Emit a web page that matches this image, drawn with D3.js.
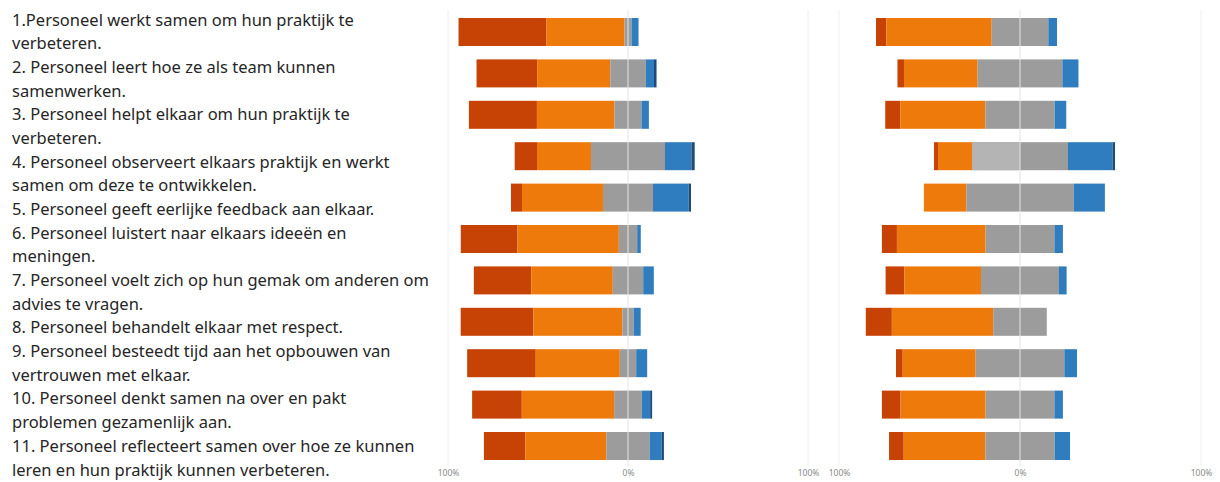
<!DOCTYPE html>
<html>
<head>
<meta charset="utf-8">
<script src="https://cdn.jsdelivr.net/npm/d3@7"></script>
<style>
  html, body { margin: 0; padding: 0; background: #fff; }
  svg { display: block; }
</style>
</head>
<body>
<svg id="chart" width="1220" height="482"></svg>
<script>
// Statements (two-line wrapped labels, drawn as one text block)
const statements = [
  ["1.Personeel werkt samen om hun praktijk te", "verbeteren."],
  ["2. Personeel leert hoe ze als team kunnen", "samenwerken."],
  ["3. Personeel helpt elkaar om hun praktijk te", "verbeteren."],
  ["4. Personeel observeert elkaars praktijk en werkt", "samen om deze te ontwikkelen."],
  ["5. Personeel geeft eerlijke feedback aan elkaar."],
  ["6. Personeel luistert naar elkaars ideeën en", "meningen."],
  ["7. Personeel voelt zich op hun gemak om anderen om", "advies te vragen."],
  ["8. Personeel behandelt elkaar met respect."],
  ["9. Personeel besteedt tijd aan het opbouwen van", "vertrouwen met elkaar."],
  ["10. Personeel denkt samen na over en pakt", "problemen gezamenlijk aan."],
  ["11. Personeel reflecteert samen over hoe ze kunnen", "leren en hun praktijk kunnen verbeteren."]
];

// Response levels, from the far left of the diverging bar to the far right
const levels = ["niveau1", "niveau2", "neutraal", "niveau4", "niveau5"];
const levelColors = ["#c64205", "#ef7a0c", "#9c9c9c", "#2f7dbf", "#1d4b7a"];
const neutralHighlight = "#b4b4b4";

// Percentages per statement, first panel
const panelA = [
  [48.7, 43.5, 3.9, 3.9, 0],
  [33.7, 40.6, 19.7, 4.6, 1.4],
  [37.8, 43.1, 15.0, 4.1, 0],
  [12.4, 30.0, 41.1, 14.7, 1.8],
  [6.1, 45.0, 27.8, 19.8, 1.3],
  [31.5, 56.3, 10.2, 2.0, 0],
  [31.9, 45.3, 16.9, 5.9, 0],
  [40.4, 49.4, 6.3, 3.9, 0],
  [38.1, 46.7, 9.1, 6.1, 0],
  [27.6, 51.3, 15.4, 4.6, 1.1],
  [23.0, 45.0, 24.1, 6.6, 1.3]
];

// Percentages per statement, second panel
const panelB = [
  [5.7, 58.2, 31.3, 4.8, 0],
  [3.6, 40.7, 46.8, 8.9, 0],
  [8.3, 47.0, 38.3, 6.4, 0],
  [2.2, 18.8, 53.0, 24.6, 1.4],
  [0, 23.4, 59.4, 17.2, 0],
  [8.3, 49.0, 38.0, 4.7, 0],
  [10.3, 42.4, 43.1, 4.2, 0],
  [14.4, 56.0, 29.6, 0, 0],
  [3.7, 40.3, 49.0, 7.0, 0],
  [10.3, 47.0, 38.0, 4.7, 0],
  [8.1, 45.1, 38.3, 8.5, 0]
];

const tickValues = [-100, 0, 100];
const tickLabels = ["100%", "0%", "100%"];

const svg = d3.select("#chart");

// ---- Statement labels on the left ----
const lines = statements.flat();
const lineY = d3.scaleLinear().domain([0, lines.length - 1]).range([25.5, 475.5]);
svg.append("g")
  .selectAll("text")
  .data(lines)
  .join("text")
  .attr("x", 12)
  .attr("y", (d, i) => lineY(i))
  .attr("font-family", "'Noto Sans', sans-serif")
  .attr("font-size", 16.5)
  .attr("fill", "#262626")
  .text(d => d);

// ---- Diverging bar panels ----
const rowY = d3.scalePoint()
  .domain(d3.range(statements.length))
  .range([32, 446]);
const barH = 28;

function drawPanel(data, x0, x1, highlightRow) {
  const x = d3.scaleLinear().domain([-100, 100]).range([x0, x1]);
  const g = svg.append("g");

  // faint frame gridlines at the panel edges
  g.selectAll("line.edge")
    .data([-100, 100])
    .join("line")
    .attr("class", "edge")
    .attr("x1", d => x(d)).attr("x2", d => x(d))
    .attr("y1", 10).attr("y2", 466)
    .attr("stroke", "#f0f0f0")
    .attr("stroke-width", 1);

  // stack each row so the neutral share is centred on zero
  const rows = data.map((vals, i) => {
    const start = -(vals[0] + vals[1] + vals[2] / 2);
    let acc = start;
    return vals.map((v, k) => {
      const seg = { row: i, level: k, from: acc, to: acc + v };
      acc += v;
      return seg;
    }).filter(s => s.to - s.from > 0);
  });

  g.selectAll("g.row")
    .data(rows)
    .join("g")
    .attr("class", "row")
    .selectAll("rect")
    .data(d => d)
    .join("rect")
    .attr("x", d => x(d.from))
    .attr("width", d => x(d.to) - x(d.from))
    .attr("y", d => rowY(d.row) - barH / 2)
    .attr("height", barH)
    .attr("fill", d => levelColors[d.level]);

  // lighter shade on the negative half of one row's neutral share
  if (highlightRow != null) {
    const seg = rows[highlightRow].find(s => s.level === 2);
    g.append("rect")
      .attr("x", x(seg.from))
      .attr("width", x(0) - x(seg.from))
      .attr("y", rowY(highlightRow) - barH / 2)
      .attr("height", barH)
      .attr("fill", neutralHighlight);
  }

  // zero line over the bars
  g.append("line")
    .attr("x1", x(0)).attr("x2", x(0))
    .attr("y1", 10).attr("y2", 466)
    .attr("stroke", "#e4e4e4")
    .attr("stroke-width", 1);

  // axis tick labels
  const axis = d3.axisBottom(x)
    .tickValues(tickValues)
    .tickFormat((d, i) => tickLabels[i])
    .tickSize(0)
    .tickPadding(0);
  const ax = g.append("g")
    .attr("transform", "translate(0,470)")
    .call(axis);
  ax.select(".domain").remove();
  ax.selectAll("text")
    .attr("font-family", "'Noto Sans', sans-serif")
    .attr("font-size", 8.5)
    .attr("fill", "#8a8a8a");
}

drawPanel(panelA, 448, 808, null);
drawPanel(panelB, 839, 1201, 3);
</script>
</body>
</html>
